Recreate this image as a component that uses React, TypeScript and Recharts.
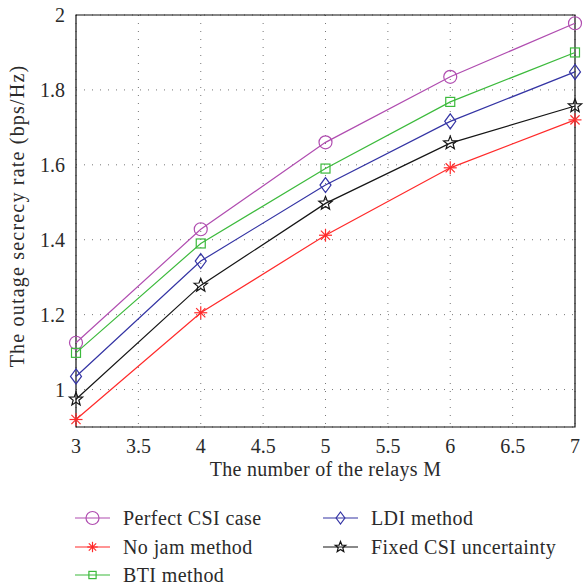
import { LineChart, Line, XAxis, YAxis, CartesianGrid, ReferenceArea } from 'recharts';

const relays = [3, 4, 5, 6, 7];
const perfectCsi = [1.125, 1.428, 1.66, 1.835, 1.978];
const btiMethod = [1.098, 1.39, 1.59, 1.768, 1.9];
const ldiMethod = [1.035, 1.343, 1.546, 1.716, 1.848];
const fixedCsi = [0.974, 1.278, 1.497, 1.658, 1.757];
const noJam = [0.92, 1.205, 1.412, 1.592, 1.72];

const xTicks = [3, 3.5, 4, 4.5, 5, 5.5, 6, 6.5, 7];
const yTicks = [1, 1.2, 1.4, 1.6, 1.8, 2];

const data = relays.map((m, i) => ({
  m,
  perfect: perfectCsi[i],
  bti: btiMethod[i],
  ldi: ldiMethod[i],
  fixed: fixedCsi[i],
  nojam: noJam[i],
}));

const FONT = '"Liberation Serif", "DejaVu Serif", serif';
const TEXT = '#2a2a2a';
const PURPLE = '#b04db0';
const RED = '#ff2a2a';
const GREEN = '#3cba3c';
const BLUE = '#3434a4';
const BLACK = '#151515';

type Shape = 'circle' | 'asterisk' | 'square' | 'diamond' | 'star';

function marker(shape: Shape, color: string, cx: number, cy: number, s: number, key?: any) {
  const common = { fill: 'none', stroke: color, strokeWidth: 1.2 };
  if (shape === 'circle') return <circle key={key} cx={cx} cy={cy} r={6.5 * s} {...common} />;
  if (shape === 'square') {
    const h = 4.5 * s;
    return <rect key={key} x={cx - h} y={cy - h} width={2 * h} height={2 * h} {...common} />;
  }
  if (shape === 'diamond') {
    const w = 5.5 * s, h = 7.5 * s;
    return <polygon key={key} points={`${cx},${cy - h} ${cx + w},${cy} ${cx},${cy + h} ${cx - w},${cy}`} {...common} />;
  }
  if (shape === 'star') {
    const pts: string[] = [];
    for (let k = 0; k < 10; k++) {
      const r = (k % 2 === 0 ? 7 : 3) * s;
      const a = -Math.PI / 2 + (k * Math.PI) / 5;
      pts.push(`${cx + r * Math.cos(a)},${cy + r * Math.sin(a)}`);
    }
    return <polygon key={key} points={pts.join(' ')} {...common} />;
  }
  const r = 6.5 * s;
  const d = r * 0.707;
  return (
    <g key={key} stroke={color} strokeWidth={1.2}>
      <line x1={cx - r} y1={cy} x2={cx + r} y2={cy} />
      <line x1={cx} y1={cy - r} x2={cx} y2={cy + r} />
      <line x1={cx - d} y1={cy - d} x2={cx + d} y2={cy + d} />
      <line x1={cx - d} y1={cy + d} x2={cx + d} y2={cy - d} />
    </g>
  );
}

const dotFor = (shape: Shape, color: string) => (p: any) => marker(shape, color, p.cx, p.cy, 1, p.key);

const series: { key: string; name: string; shape: Shape; color: string }[] = [
  { key: 'perfect', name: 'Perfect CSI case', shape: 'circle', color: PURPLE },
  { key: 'bti', name: 'BTI method', shape: 'square', color: GREEN },
  { key: 'ldi', name: 'LDI method', shape: 'diamond', color: BLUE },
  { key: 'fixed', name: 'Fixed CSI uncertainty', shape: 'star', color: BLACK },
  { key: 'nojam', name: 'No jam method', shape: 'asterisk', color: RED },
];

const legendItems = [
  { name: 'Perfect CSI case', shape: 'circle' as Shape, color: PURPLE, x: 75, y: 518 },
  { name: 'No jam method', shape: 'asterisk' as Shape, color: RED, x: 75, y: 547 },
  { name: 'BTI method', shape: 'square' as Shape, color: GREEN, x: 75, y: 575 },
  { name: 'LDI method', shape: 'diamond' as Shape, color: BLUE, x: 323, y: 518 },
  { name: 'Fixed CSI uncertainty', shape: 'star' as Shape, color: BLACK, x: 323, y: 547 },
];

export default function App() {
  return (
    <div style={{ position: 'absolute', left: 0, top: 0, width: 585, height: 586, background: '#fff', fontFamily: FONT }}>
      <LineChart width={585} height={586} data={data} margin={{ top: 15, right: 10, bottom: 109, left: 16 }}>
        <CartesianGrid stroke="#777" strokeDasharray="1 7" strokeWidth={1} />
        <XAxis
          dataKey="m"
          type="number"
          domain={[3, 7]}
          ticks={xTicks}
          height={50}
          axisLine={false}
          tickLine={false}
          tickMargin={6}
          tick={{ fontSize: 20, fill: TEXT, fontFamily: FONT }}
          label={{ value: 'The number of the relays M', position: 'insideBottom', offset: 1, style: { fontSize: 20, fill: TEXT, fontFamily: FONT, letterSpacing: 0.3 } }}
        />
        <YAxis
          type="number"
          domain={[0.9, 2]}
          ticks={yTicks}
          width={60}
          axisLine={false}
          tickLine={false}
          tickMargin={5}
          tick={{ fontSize: 20, fill: TEXT, fontFamily: FONT }}
          label={{ value: 'The outage secrecy rate (bps/Hz)', angle: -90, position: 'insideLeft', offset: 1, dy: -5, style: { fontSize: 20, fill: TEXT, fontFamily: FONT, textAnchor: 'middle', letterSpacing: 1.2 } }}
        />
        <ReferenceArea x1={3} x2={7} y1={0.9} y2={2} fill="none" stroke="#111" strokeWidth={1.2} ifOverflow="visible" />
        {series.map(s => (
          <Line
            key={s.key}
            dataKey={s.key}
            name={s.name}
            stroke={s.color}
            strokeWidth={1.2}
            dot={dotFor(s.shape, s.color)}
            isAnimationActive={false}
          />
        ))}
      </LineChart>
      <svg width={585} height={586} style={{ position: 'absolute', left: 0, top: 0, pointerEvents: 'none' }}>
        {legendItems.map(it => (
          <g key={it.name}>
            <line x1={it.x} y1={it.y} x2={it.x + 35} y2={it.y} stroke={it.color} strokeWidth={1.2} />
            {marker(it.shape, it.color, it.x + 17.5, it.y, it.shape === 'circle' ? 1 : 0.8)}
            <text x={it.x + 48} y={it.y} dy="0.35em" fontSize={20} fill={TEXT} fontFamily={FONT} letterSpacing={0.4}>
              {it.name}
            </text>
          </g>
        ))}
      </svg>
    </div>
  );
}
